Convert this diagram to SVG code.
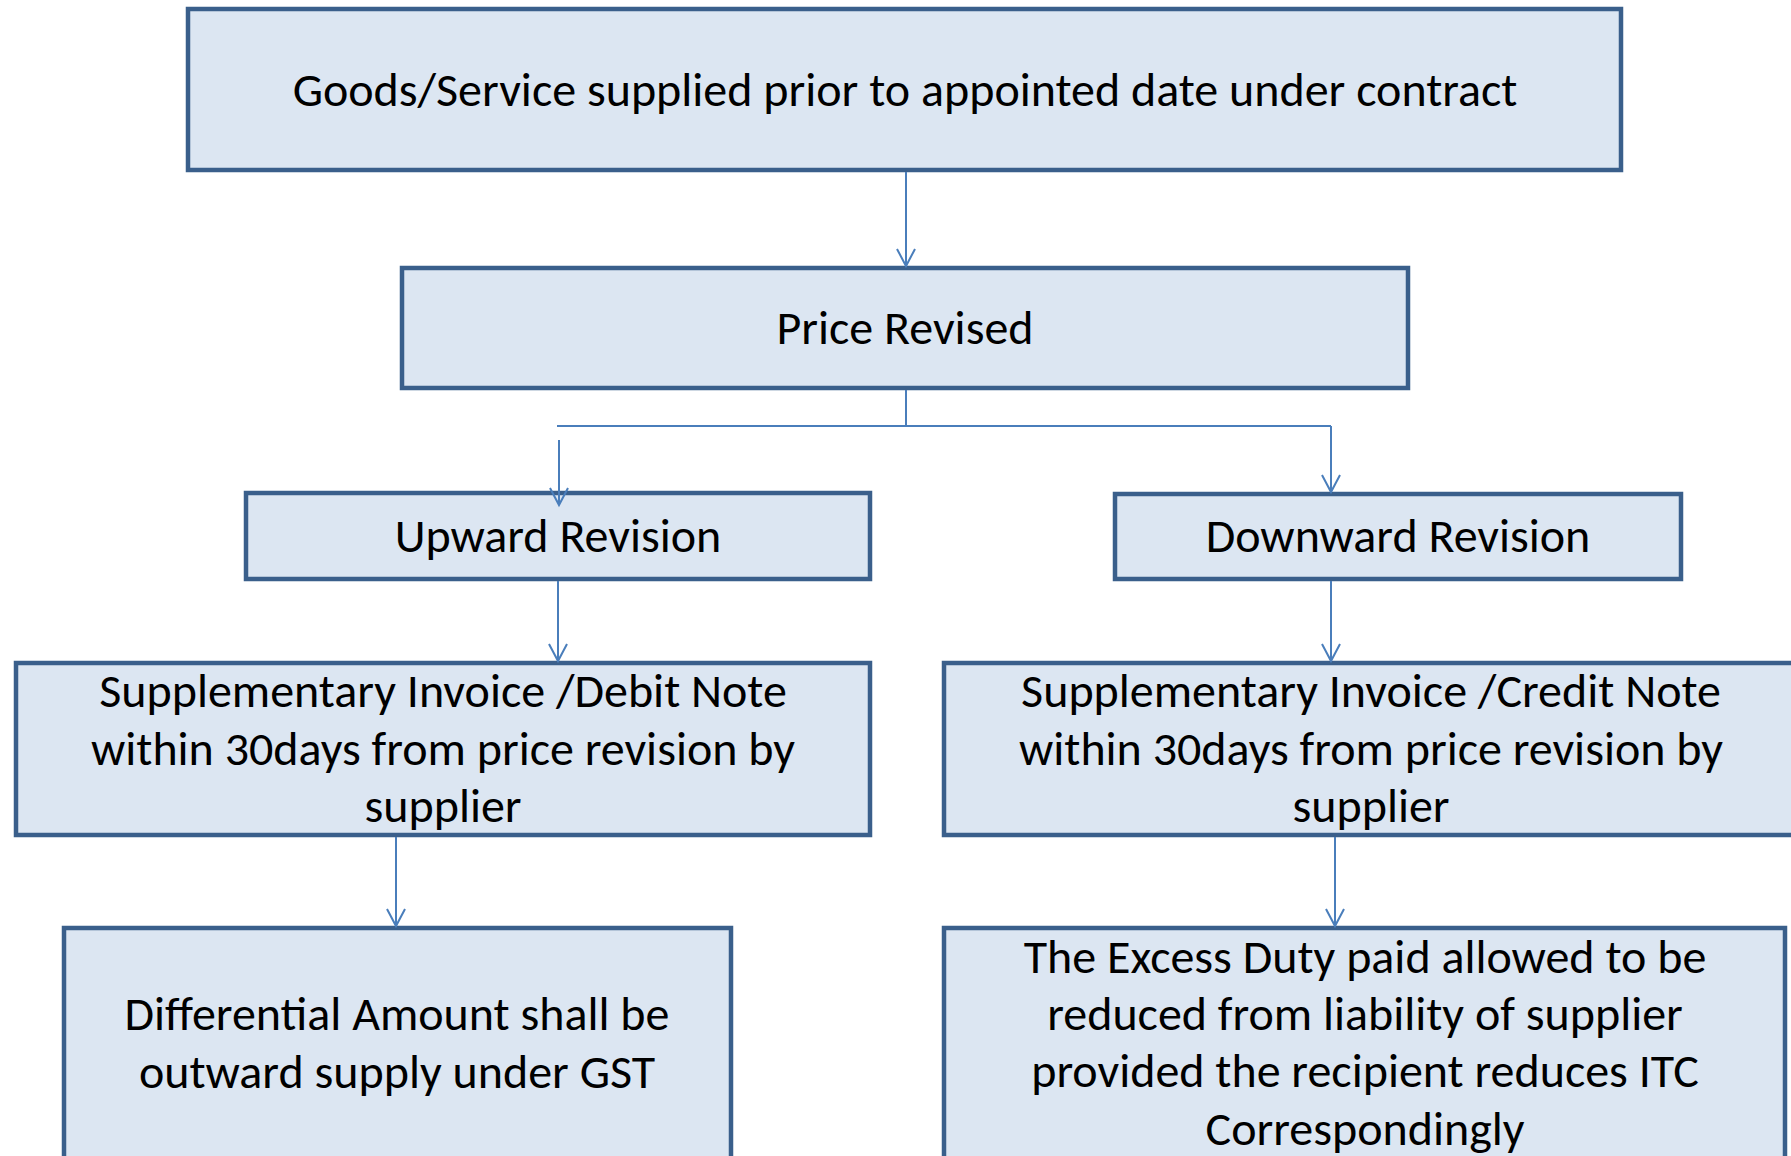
<svg xmlns="http://www.w3.org/2000/svg" width="1791" height="1156" viewBox="0 0 1791 1156">
  <defs>
    <style>
      .box { fill: #dce6f2; stroke: #3a5f8b; stroke-width: 4.5; }
      .lbl { font-family: Carlito, Lato, "Open Sans", sans-serif; font-size: 48px; fill: #000; text-anchor: middle; }
      .wire { fill: none; stroke: #4a7ebb; stroke-width: 2; }
      .arrow { marker-end: url(#head); }
    </style>
    <marker id="head" markerUnits="userSpaceOnUse" markerWidth="24" markerHeight="24" viewBox="-12 -20 24 24" refX="0" refY="0" orient="auto" overflow="visible">
      <path d="M-17,-9 L0,0 L-17,9" fill="none" stroke="#4a7ebb" stroke-width="2" stroke-linejoin="miter"/>
    </marker>
  </defs>
  <rect width="1791" height="1156" fill="#ffffff"/>

  <!-- nodes -->
  <g id="node-supplied">
    <rect class="box" x="188" y="9" width="1433" height="161"/>
    <text class="lbl" x="905" y="106">Goods/Service supplied prior to appointed date under contract</text>
  </g>
  <g id="node-price-revised">
    <rect class="box" x="402" y="268" width="1006" height="120"/>
    <text class="lbl" x="905" y="344">Price Revised</text>
  </g>
  <g id="node-upward">
    <rect class="box" x="246" y="493" width="624" height="86"/>
    <text class="lbl" x="558" y="552">Upward Revision</text>
  </g>
  <g id="node-downward">
    <rect class="box" x="1115" y="494" width="566" height="85"/>
    <text class="lbl" x="1398" y="552">Downward Revision</text>
  </g>
  <g id="node-debit-note">
    <rect class="box" x="16" y="663" width="854" height="172"/>
    <text class="lbl" x="443" y="707">Supplementary Invoice /Debit Note</text>
    <text class="lbl" x="443" y="765">within 30days from price revision by</text>
    <text class="lbl" x="443" y="822">supplier</text>
  </g>
  <g id="node-credit-note">
    <rect class="box" x="944" y="663" width="860" height="172"/>
    <text class="lbl" x="1371" y="707">Supplementary Invoice /Credit Note</text>
    <text class="lbl" x="1371" y="765">within 30days from price revision by</text>
    <text class="lbl" x="1371" y="822">supplier</text>
  </g>
  <g id="node-differential">
    <rect class="box" x="64" y="928" width="667" height="250"/>
    <text class="lbl" x="397" y="1030">Differential Amount shall be</text>
    <text class="lbl" x="397" y="1088">outward supply under GST</text>
  </g>
  <g id="node-excess-duty">
    <rect class="box" x="944" y="928" width="841" height="250"/>
    <text class="lbl" x="1365" y="973">The Excess Duty paid allowed to be</text>
    <text class="lbl" x="1365" y="1030">reduced from liability of supplier</text>
    <text class="lbl" x="1365" y="1087">provided the recipient reduces ITC</text>
    <text class="lbl" x="1365" y="1145">Correspondingly</text>
  </g>

  <!-- connectors -->
  <g id="connectors">
    <path class="wire arrow" d="M906,172 L906,266"/>
    <path class="wire" d="M906,390 L906,426 M557,426 L1331,426"/>
    <path class="wire arrow" d="M559,440 L559,505"/>
    <path class="wire arrow" d="M1331,426 L1331,492"/>
    <path class="wire arrow" d="M558,581 L558,661"/>
    <path class="wire arrow" d="M1331,581 L1331,661"/>
    <path class="wire arrow" d="M396,837 L396,926"/>
    <path class="wire arrow" d="M1335,837 L1335,926"/>
  </g>
</svg>
